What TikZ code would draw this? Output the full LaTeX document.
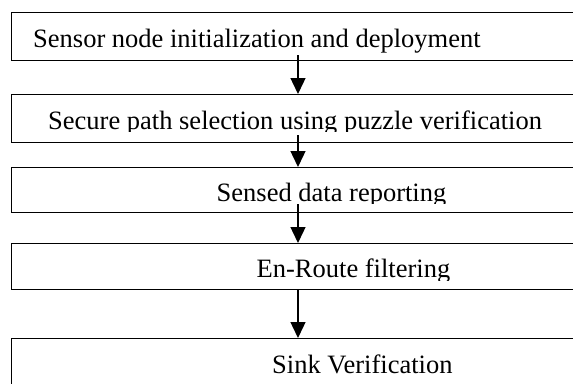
\documentclass[tikz,border=0pt]{standalone}
\usepackage{fontspec}
\setmainfont{Liberation Serif}
\usetikzlibrary{arrows.meta}
\begin{document}
\begin{tikzpicture}[x=1pt,y=-1pt,
  stagebox/.style={draw, line width=1.4pt, rectangle, anchor=north west,
    minimum width=620pt, inner sep=0pt},
  stagetext/.style={anchor=base west, inner sep=0pt,
    font=\fontsize{26.5}{30}\selectfont},
  flow/.style={line width=1.4pt, -{Triangle[width=15pt,length=16pt]}}]
\useasboundingbox (0,0) rectangle (573,383);
\clip (0,0) rectangle (573,383);

% stage frames (they run on past the right edge)
\node[stagebox, minimum height=48pt] (b1) at (10.5,12) {};
\node[stagebox, minimum height=48pt] (b2) at (10.5,94) {};
\node[stagebox, minimum height=45pt] (b3) at (10.5,167) {};
\node[stagebox, minimum height=46pt] (b4) at (10.5,243) {};
\node[stagebox, minimum height=70pt] (b5) at (10.5,338) {};

% stage labels, cut off at the bottom of each text area
\begin{scope}
  \clip (11,13) rectangle (573,56);
  \node[stagetext] (t1) at (33,47) {Sensor node initialization and deployment};
\end{scope}
\begin{scope}
  \clip (11,95) rectangle (573,131.5);
  \node[stagetext] (t2) at (48,129) {Secure path selection using puzzle verification};
\end{scope}
\begin{scope}
  \clip (11,168) rectangle (573,203.5);
  \node[stagetext] (t3) at (216.5,201.5) {Sensed data reporting};
\end{scope}
\begin{scope}
  \clip (11,244) rectangle (573,280);
  \node[stagetext] (t4) at (256.5,277.5) {En-Route filtering};
\end{scope}
\node[stagetext] (t5) at (272,373) {Sink Verification};

% arrows between the stages
\coordinate (s1) at (298,55);
\coordinate (s2) at (298,135);
\coordinate (s3) at (298,204);
\coordinate (s4) at (298,289);
\draw[flow] (s1) -- (b2.north -| s1);
\draw[flow] (s2) -- (b3.north -| s2);
\draw[flow] (s3) -- (b4.north -| s3);
\draw[flow] (s4) -- (b5.north -| s4);
\end{tikzpicture}
\end{document}
